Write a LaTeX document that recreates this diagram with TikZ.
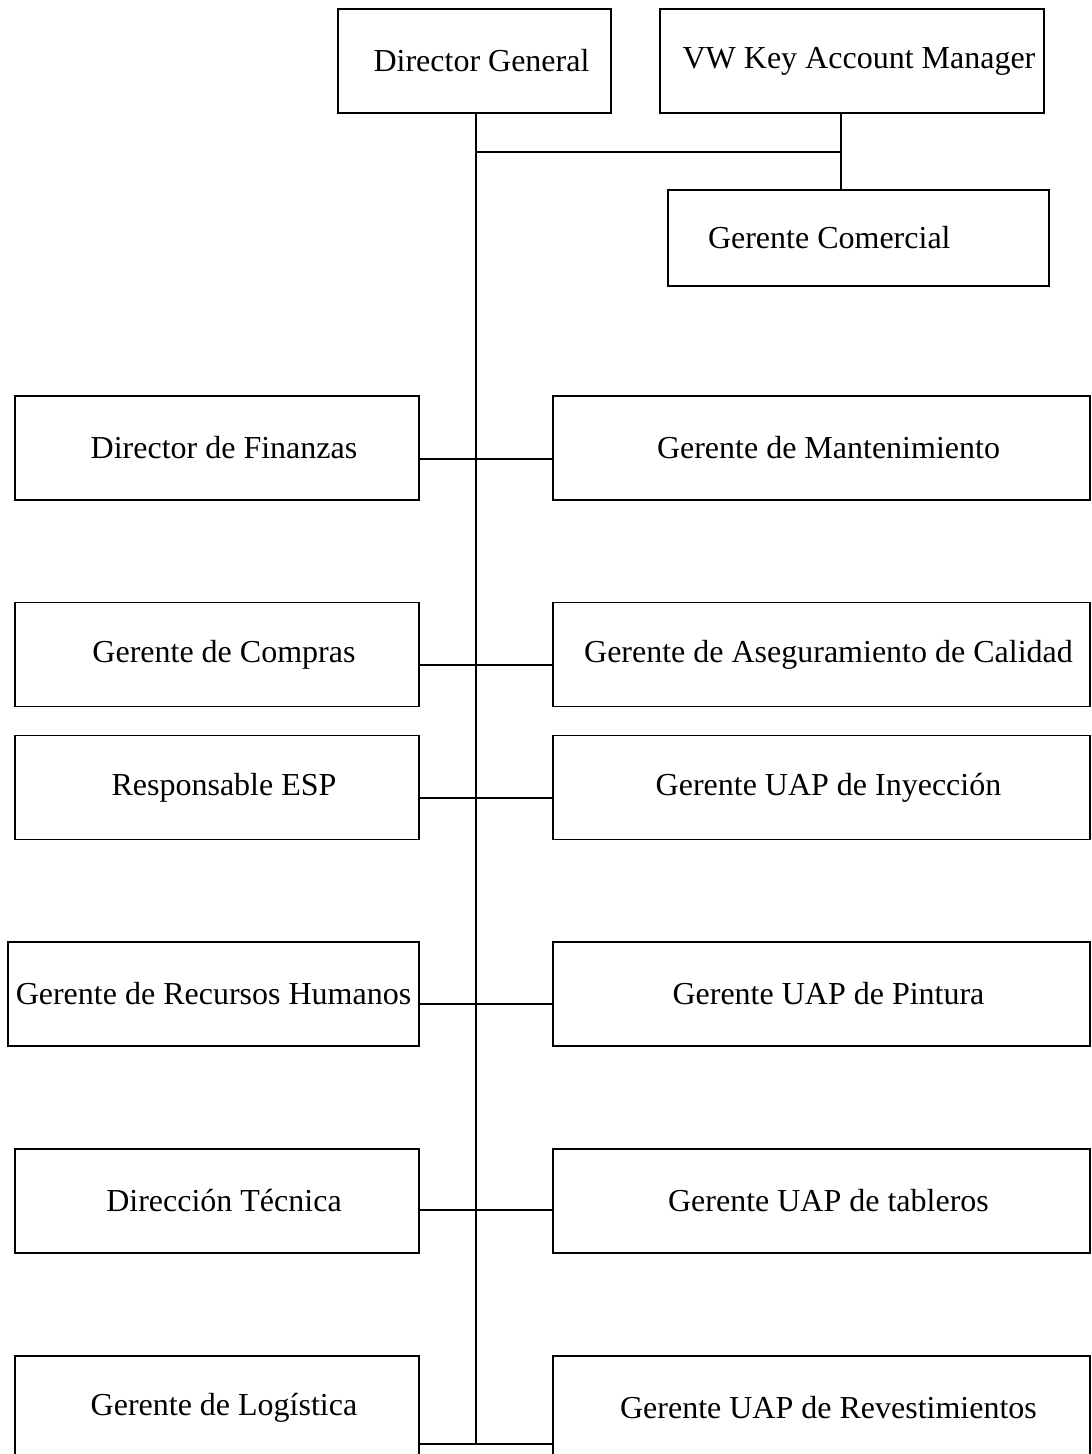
\documentclass[tikz,border=0pt]{standalone}
\usepackage{fontspec}
\setmainfont{Liberation Serif}
\usepackage{tikz}

\begin{document}
\begin{tikzpicture}[x=0.5pt,y=-0.5pt,
    box/.style={draw, line width=0.9pt, inner sep=0pt, minimum height=52pt},
    shifted/.style={execute at begin node={\hspace*{7pt}}},
    lbox/.style={box, shifted, minimum width=202pt},
    rbox/.style={box, shifted, minimum width=268.5pt},
    con/.style={line width=0.9pt}]
        \fontsize{16}{19}\selectfont
        \useasboundingbox (0,0) rectangle (1091,1454);

        % top
        \node[box, shifted, minimum width=136.5pt] (dg) at (474.5,61) {Director General};
        \node[box, shifted, minimum width=192pt] (vw) at (852,61) {VW Key Account Manager};
        \node[box, minimum width=190.5pt, minimum height=48pt] (gc) at (858.5,238) {\makebox[150.5pt][l]{Gerente Comercial}};

        % left column
        \node[lbox] (fin) at (217,448) {Director de Finanzas};
        \node[lbox] (comp) at (217,654.5) {Gerente de Compras};
        \node[lbox] (esp) at (217,787.5) {Responsable ESP};
        \node[box, minimum width=205.5pt] (rh) at (213.5,994) {Gerente de Recursos Humanos};
        \node[lbox] (tec) at (217,1201) {Dirección Técnica};
        \node[lbox] (log) at (217,1408) {Gerente de Logística};

        % right column
        \node[rbox] (mant) at (821.5,448) {Gerente de Mantenimiento};
        \node[rbox] (cal) at (821.5,654.5) {Gerente de Aseguramiento de Calidad};
        \node[rbox] (iny) at (821.5,787.5) {Gerente UAP de Inyección};
        \node[rbox] (pin) at (821.5,994) {Gerente UAP de Pintura};
        \node[rbox] (tab) at (821.5,1201) {Gerente UAP de tableros};
        \node[rbox] (rev) at (821.5,1408) {Gerente UAP de Revestimientos};

        % lines
        \coordinate (t) at (476,1444);
        \coordinate (h) at (476,152);
        \coordinate (k) at (841,152);
        \draw[con] (dg.south -| t) -- (t);
        \draw[con] (h) -- (k);
        \draw[con] (vw.south -| k) -- (gc.north -| k);
        \foreach \l/\r/\y in {fin/mant/459, comp/cal/665, esp/iny/798, rh/pin/1004, tec/tab/1210, log/rev/1444}
            \draw[con] (\l.east |- 0,\y) -- (\r.west |- 0,\y);

\end{tikzpicture}
\end{document}
